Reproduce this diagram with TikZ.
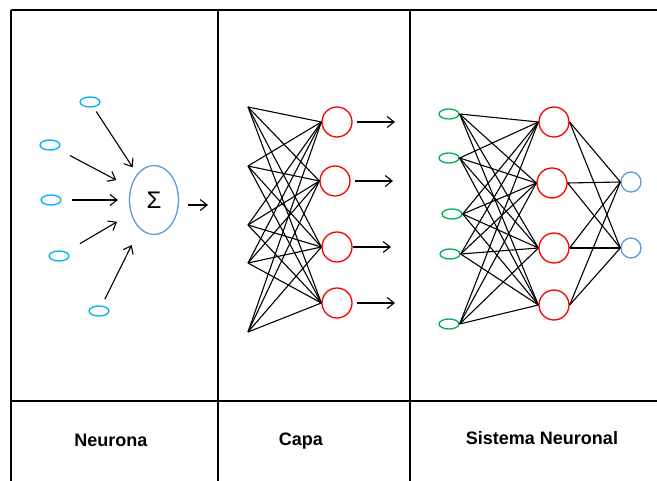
\documentclass[tikz,border=0pt]{standalone}
\usepackage{fontspec}
\setmainfont{Liberation Sans}
\usetikzlibrary{arrows.meta,shapes.geometric}
\definecolor{incyan}{HTML}{00B0F0}
\definecolor{sumblue}{HTML}{5B9BD5}
\definecolor{cellred}{HTML}{FF0000}
\definecolor{ingreen}{HTML}{00B050}
\begin{document}
\begin{tikzpicture}[x=1pt,y=-1pt,>={Straight Barb[length=7pt,width=11pt]},line join=bevel,
  grid line/.style={black,line width=1.5pt},
  link/.style={black,line width=1.1pt},
  tag/.style={font=\bfseries\fontsize{18}{20}\selectfont},
  small ellipse/.style={ellipse,line width=1.3pt,minimum width=20pt,minimum height=10pt,inner sep=0pt},
  cell/.style={circle,draw=cellred,line width=1.3pt,minimum size=30pt,inner sep=0pt},
  out cell/.style={circle,draw=sumblue,line width=1.3pt,minimum size=20pt,inner sep=0pt}]

 \useasboundingbox (0,0) rectangle (657,481);

 % table
 \draw [grid line] (11,10) -- (657,10);
 \draw [grid line] (11,401) -- (657,401);
 \draw [grid line] (11,10) -- (11,481);
 \draw [grid line] (218,10) -- (218,481);
 \draw [grid line] (410,10) -- (410,481);

 \node (tag_0) at (111,440) [tag] {Neurona};
 \node (tag_1) at (301,441) [tag] {Capa};
 \node (tag_2) at (542,438) [tag] {Sistema Neuronal};

 % neurona
 \node (neuron_in_0) at (90,102) [small ellipse,draw=incyan] {};
 \node (neuron_in_1) at (50,145) [small ellipse,draw=incyan] {};
 \node (neuron_in_2) at (51,200) [small ellipse,draw=incyan] {};
 \node (neuron_in_3) at (59,256) [small ellipse,draw=incyan] {};
 \node (neuron_in_4) at (99,311) [small ellipse,draw=incyan] {};
 \node (sum_0) at (154,200) [ellipse,draw=sumblue,line width=1.3pt,minimum width=49pt,minimum height=69pt,inner sep=0pt,font=\fontsize{24}{24}\selectfont] {Σ};
 \coordinate (sum_right) at (188,205);
 \coordinate (neuron_out) at (208,205);

  \draw [link] (neuron_in_0) edge [->,shorten <=5pt,shorten >=8pt] (sum_0);
  \draw [link] (neuron_in_1) edge [->,shorten <=14pt,shorten >=16pt] (sum_0);
  \draw [link] (neuron_in_2) edge [->,shorten <=10pt,shorten >=11pt] (sum_0);
  \draw [link] (neuron_in_3) edge [->,shorten <=16pt,shorten >=16pt] (sum_0);
  \draw [link] (neuron_in_4) edge [->,shorten <=7pt,shorten >=18pt] (sum_0);
  \draw [link] (sum_right) edge [->] (neuron_out);

 % capa
 \coordinate (layer_in_0) at (248,107);
 \coordinate (layer_in_1) at (248,166);
 \coordinate (layer_in_2) at (248,225);
 \coordinate (layer_in_3) at (248,263);
 \coordinate (layer_in_4) at (248,332);
 \node (layer_out_0) at (337,122) [cell] {};
 \node (layer_out_1) at (335,181) [cell] {};
 \node (layer_out_2) at (337,247) [cell] {};
 \node (layer_out_3) at (337,303) [cell] {};
 \coordinate (layer_arr_0) at (395,122);
 \coordinate (layer_arr_1) at (393,181);
 \coordinate (layer_arr_2) at (391,247);
 \coordinate (layer_arr_3) at (395,303);

  \draw [link] (layer_in_0) edge (layer_out_0.west) edge (layer_out_1.west) edge (layer_out_2.west) edge (layer_out_3.west);
  \draw [link] (layer_in_1) edge (layer_out_0.west) edge (layer_out_1.west) edge (layer_out_2.west) edge (layer_out_3.west);
  \draw [link] (layer_in_2) edge (layer_out_0.west) edge (layer_out_1.west) edge (layer_out_2.west) edge (layer_out_3.west);
  \draw [link] (layer_in_3) edge (layer_out_0.west) edge (layer_out_1.west) edge (layer_out_2.west) edge (layer_out_3.west);
  \draw [link] (layer_in_4) edge (layer_out_0.west) edge (layer_out_1.west) edge (layer_out_2.west) edge (layer_out_3.west);
  \draw [link] (layer_out_0.east) edge [->,shorten <=4pt] (layer_arr_0);
  \draw [link] (layer_out_1.east) edge [->,shorten <=4pt] (layer_arr_1);
  \draw [link] (layer_out_2.east) edge [->] (layer_arr_2);
  \draw [link] (layer_out_3.east) edge [->,shorten <=4pt] (layer_arr_3);

 % sistema neuronal
 \node (net_in_0) at (449,114) [small ellipse,draw=ingreen] {};
 \node (net_in_1) at (449,158) [small ellipse,draw=ingreen] {};
 \node (net_in_2) at (452,214) [small ellipse,draw=ingreen] {};
 \node (net_in_3) at (450,254) [small ellipse,draw=ingreen] {};
 \node (net_in_4) at (449,324) [small ellipse,draw=ingreen] {};
 \node (net_hid_0) at (554,122) [cell] {};
 \node (net_hid_1) at (552,183) [cell] {};
 \node (net_hid_2) at (554,248) [cell] {};
 \node (net_hid_3) at (554,305) [cell] {};
 \node (net_out_0) at (631,182) [out cell] {};
 \node (net_out_1) at (631,248) [out cell] {};

  \draw [link] (net_in_0.east) edge (net_hid_0.west) edge (net_hid_1.west) edge (net_hid_2.west) edge (net_hid_3.west);
  \draw [link] (net_in_1.east) edge (net_hid_0.west) edge (net_hid_1.west) edge (net_hid_2.west) edge (net_hid_3.west);
  \draw [link] (net_in_2.east) edge (net_hid_0.west) edge (net_hid_1.west) edge (net_hid_2.west) edge (net_hid_3.west);
  \draw [link] (net_in_3.east) edge (net_hid_0.west) edge (net_hid_1.west) edge (net_hid_2.west) edge (net_hid_3.west);
  \draw [link] (net_in_4.east) edge (net_hid_0.west) edge (net_hid_1.west) edge (net_hid_2.west) edge (net_hid_3.west);
  \draw [link] (net_hid_0.east) edge (net_out_0.west) edge (net_out_1.west);
  \draw [link] (net_hid_1.east) edge (net_out_0.west) edge (net_out_1.west);
  \draw [link] (net_hid_2.east) edge (net_out_0.west) edge (net_out_1.west);
  \draw [link] (net_hid_3.east) edge (net_out_0.west) edge (net_out_1.west);

\end{tikzpicture}
\end{document}
